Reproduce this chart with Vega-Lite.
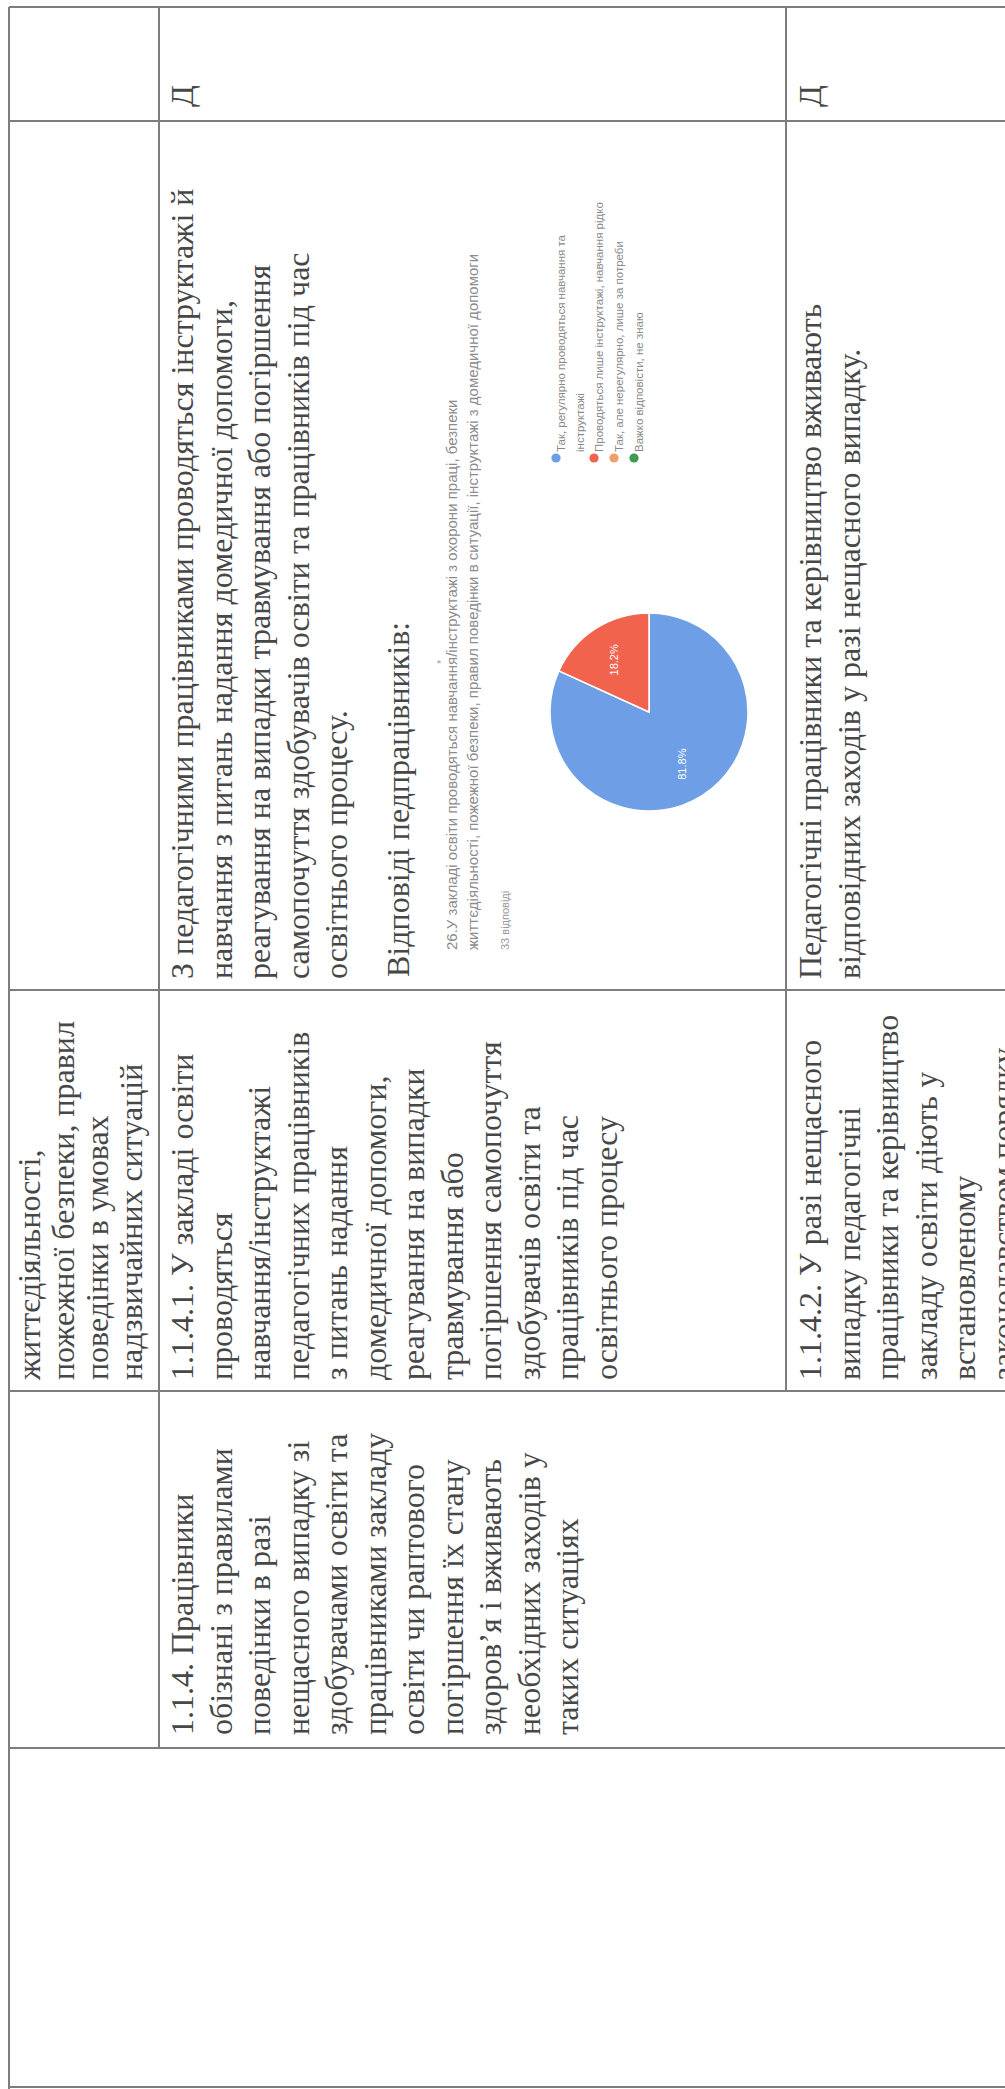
{
  "$schema": "https://vega.github.io/schema/vega-lite/v6.json",
  "width": 1005,
  "height": 2089,
  "padding": 0,
  "autosize": {"type": "none"},
  "background": "#ffffff",
  "config": {"view": {"stroke": null}},
  "datasets": {
    "lines": [
      {"xa": 9, "ya": 7, "xb": 1005, "yb": 7},
      {"xa": 9, "ya": 121, "xb": 1005, "yb": 121},
      {"xa": 9, "ya": 990, "xb": 1005, "yb": 990},
      {"xa": 9, "ya": 1391, "xb": 1005, "yb": 1391},
      {"xa": 9, "ya": 1748, "xb": 1005, "yb": 1748},
      {"xa": 9, "ya": 2087, "xb": 1005, "yb": 2087},
      {"xa": 9, "ya": 7, "xb": 9, "yb": 2089},
      {"xa": 159, "ya": 7, "xb": 159, "yb": 1748},
      {"xa": 786, "ya": 7, "xb": 786, "yb": 1391}
    ],
    "cells": [
      {"x": 168, "y": 107, "lines": ["Д"]},
      {"x": 796, "y": 107, "lines": ["Д"]},
      {"x": 168, "y": 979, "lines": ["З педагогічними працівниками проводяться інструктажі й", "навчання з питань надання домедичної допомоги,", "реагування на випадки травмування або погіршення", "самопочуття здобувачів освіти та працівників під час", "освітнього процесу."]},
      {"x": 384, "y": 977, "lines": ["Відповіді педпрацівників:"]},
      {"x": 796, "y": 979, "lines": ["Педагогічні працівники та  керівництво вживають", "відповідних  заходів у разі нещасного випадку."]},
      {"x": 168, "y": 1380, "lines": ["1.1.4.1. У закладі освіти", "проводяться", "навчання/інструктажі", "педагогічних працівників", "з питань надання", "домедичної допомоги,", "реагування на випадки", "травмування або", "погіршення самопочуття", "здобувачів освіти та", "працівників під час", "освітнього процесу"]},
      {"x": 796, "y": 1380, "lines": ["1.1.4.2. У разі нещасного", "випадку педагогічні", "працівники та керівництво", "закладу освіти діють у", "встановленому", "законодавством порядку"]},
      {"x": 168, "y": 1735, "lines": ["1.1.4. Працівники", "обізнані з правилами", "поведінки в разі", "нещасного випадку зі", "здобувачами освіти та", "працівниками закладу", "освіти чи раптового", "погіршення їх стану", "здоров’я і вживають", "необхідних заходів у", "таких ситуаціях"]}
    ],
    "prevcell": [
      {"x": 15, "y": 1380, "lines": ["життєдіяльності,", "пожежної безпеки, правил", "поведінки в умовах", "надзвичайних ситуацій"]}
    ],
    "charttitle": [
      {"x": 445, "y": 950, "lines": ["26.У закладі освіти проводяться навчання/інструктажі з охорони праці, безпеки", "життєдіяльності, пожежної безпеки, правил поведінки в ситуації, інструктажі з домедичної допомоги"]}
    ],
    "chartnote": [
      {"x": 500, "y": 950, "lines": ["33 відповіді"]},
      {"x": 436, "y": 664, "lines": ["*"]}
    ],
    "answers": [
      {"answer": "Так, регулярно проводяться навчання та інструктажі", "count": 27, "label": "81.8%", "lx": 556, "lines": ["Так, регулярно проводяться навчання та", "інструктажі"]},
      {"answer": "Проводяться лише інструктажі", "count": 6, "label": "18.2%", "lx": 594, "lines": ["Проводяться лише інструктажі, навчання рідко"]},
      {"answer": "Так, але нерегулярно", "count": 0, "label": "", "lx": 614, "lines": ["Так, але нерегулярно, лише за потреби"]},
      {"answer": "Важко відповісти", "count": 0, "label": "", "lx": 634, "lines": ["Важко відповісти, не знаю"]}
    ]
  },
  "layer": [
    {
      "data": {"name": "lines"},
      "mark": {"type": "rule", "color": "#7d7d7d", "strokeWidth": 2},
      "encoding": {
        "x": {"field": "xa", "type": "quantitative", "scale": {"domain": [0, 1005], "nice": false, "zero": false}, "axis": null},
        "x2": {"field": "xb"},
        "y": {"field": "ya", "type": "quantitative", "scale": {"domain": [0, 2089], "nice": false, "zero": false, "reverse": true}, "axis": null},
        "y2": {"field": "yb"}
      }
    },
    {
      "data": {"name": "cells"},
      "mark": {"type": "text", "angle": 270, "align": "left", "baseline": "top", "font": "'Liberation Serif', 'DejaVu Serif', serif", "fontSize": 32, "lineHeight": 38.5, "color": "#474747"},
      "encoding": {
        "x": {"field": "x", "type": "quantitative"},
        "y": {"field": "y", "type": "quantitative"},
        "text": {"field": "lines"}
      }
    },
    {
      "data": {"name": "prevcell"},
      "mark": {"type": "text", "angle": 270, "align": "left", "baseline": "top", "font": "'Liberation Serif', 'DejaVu Serif', serif", "fontSize": 32, "lineHeight": 34, "color": "#474747"},
      "encoding": {
        "x": {"field": "x", "type": "quantitative"},
        "y": {"field": "y", "type": "quantitative"},
        "text": {"field": "lines"}
      }
    },
    {
      "data": {"name": "charttitle"},
      "mark": {"type": "text", "angle": 270, "align": "left", "baseline": "top", "font": "'Liberation Sans', Arial, sans-serif", "fontSize": 15, "lineHeight": 21, "color": "#8c8c8c"},
      "encoding": {
        "x": {"field": "x", "type": "quantitative"},
        "y": {"field": "y", "type": "quantitative"},
        "text": {"field": "lines"}
      }
    },
    {
      "data": {"name": "chartnote"},
      "mark": {"type": "text", "angle": 270, "align": "left", "baseline": "top", "font": "'Liberation Sans', Arial, sans-serif", "fontSize": 11, "color": "#9a9a9a"},
      "encoding": {
        "x": {"field": "x", "type": "quantitative"},
        "y": {"field": "y", "type": "quantitative"},
        "text": {"field": "lines"}
      }
    },
    {
      "data": {"name": "answers"},
      "transform": [{"filter": "datum.count > 0"}],
      "mark": {"type": "arc", "outerRadius": 99, "stroke": "#ffffff", "strokeWidth": 1.5},
      "encoding": {
        "x": {"datum": 649, "type": "quantitative"},
        "y": {"datum": 712, "type": "quantitative"},
        "theta": {"field": "count", "type": "quantitative", "stack": true},
        "order": {"field": "count", "sort": "descending"},
        "color": {
          "field": "answer",
          "type": "nominal",
          "scale": {
            "domain": ["Так, регулярно проводяться навчання та інструктажі", "Проводяться лише інструктажі", "Так, але нерегулярно", "Важко відповісти"],
            "range": ["#6e9fe6", "#f1634d", "#f1a06c", "#3f9a54"]
          },
          "legend": null
        }
      }
    },
    {
      "data": {"name": "answers"},
      "transform": [{"filter": "datum.count > 0"}],
      "mark": {"type": "text", "radius": 62, "angle": 270, "fontSize": 11, "font": "'Liberation Sans', Arial, sans-serif", "color": "#ffffff"},
      "encoding": {
        "x": {"datum": 649, "type": "quantitative"},
        "y": {"datum": 712, "type": "quantitative"},
        "theta": {"field": "count", "type": "quantitative", "stack": true},
        "order": {"field": "count", "sort": "descending"},
        "text": {"field": "label"}
      }
    },
    {
      "data": {"name": "answers"},
      "mark": {"type": "point", "filled": true, "size": 85, "opacity": 1},
      "encoding": {
        "x": {"field": "lx", "type": "quantitative"},
        "y": {"datum": 458, "type": "quantitative"},
        "color": {"field": "answer", "type": "nominal", "legend": null}
      }
    },
    {
      "data": {"name": "answers"},
      "mark": {"type": "text", "angle": 270, "align": "left", "baseline": "top", "font": "'Liberation Sans', Arial, sans-serif", "fontSize": 11.5, "lineHeight": 19, "color": "#8a8a8a", "dx": -6},
      "encoding": {
        "x": {"field": "lx", "type": "quantitative"},
        "y": {"datum": 446, "type": "quantitative"},
        "text": {"field": "lines"}
      }
    }
  ]
}
